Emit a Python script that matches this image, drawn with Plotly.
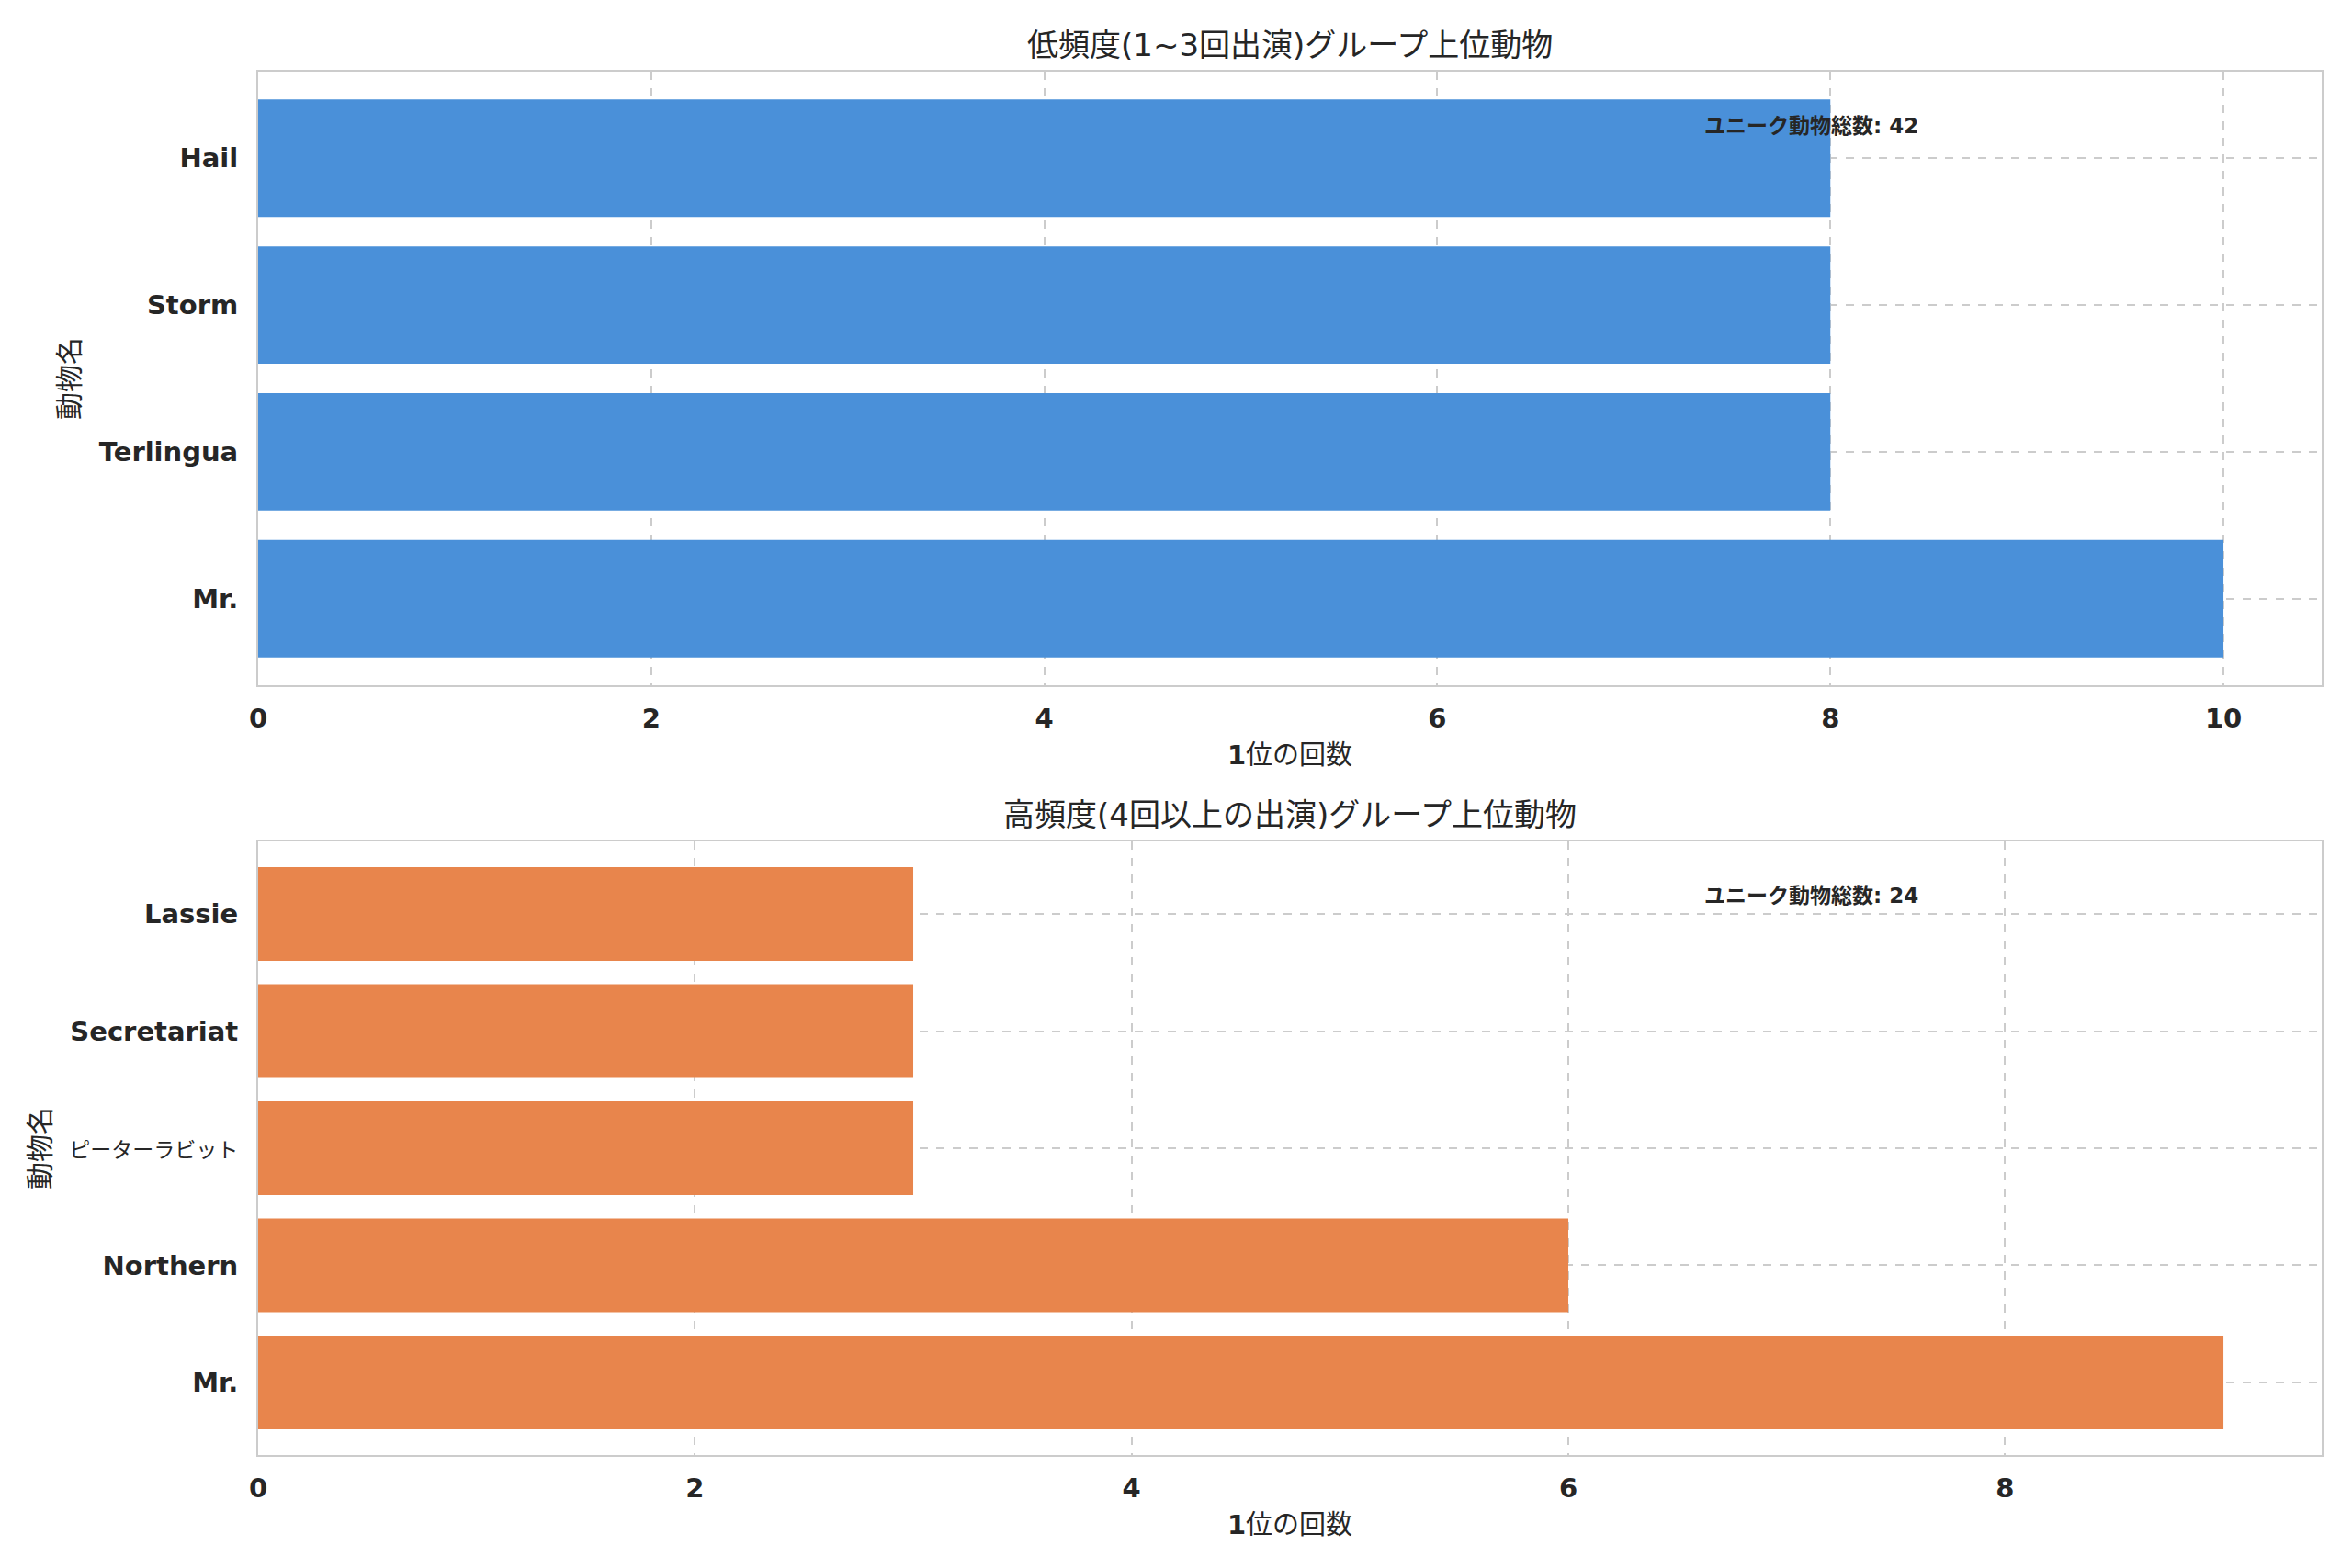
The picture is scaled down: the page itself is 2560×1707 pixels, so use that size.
import plotly.graph_objects as go
from plotly.subplots import make_subplots

# Data
top_names = ["Mr.", "Terlingua", "Storm", "Hail"]
top_values = [10, 8, 8, 8]
bottom_names = ["Mr.", "Northern", "ピーターラビット", "Secretariat", "Lassie"]
bottom_values = [9, 6, 3, 3, 3]
top_title = "低頻度(1~3回出演)グループ上位動物"
bottom_title = "高頻度(4回以上の出演)グループ上位動物"
x_label = "位の回数"
y_label = "動物名"
top_total = 42
bottom_total = 24
note_label = "ユニーク動物総数"

BLUE = "#4a90d9"
ORANGE = "#e8854c"
TXT = "#262626"
GRID = "#cccccc"
FONT = "DejaVu Sans, Noto Sans CJK JP, sans-serif"

O = 8  # default page body margin
SW, SH = 2560, 1707
W, H = SW - 2 * O, SH - 2 * O
L, R, T, B = 281 - O, 2527 - O, 78 - O, 1584 - O
top_y1 = 746 - O
bot_y0 = 916 - O
ph = B - T

fig = make_subplots(rows=2, cols=1)

fig.add_trace(go.Bar(y=top_names, x=top_values, orientation="h", width=0.8,
                     marker=dict(color=BLUE, line=dict(width=0)), showlegend=False),
              row=1, col=1)
fig.add_trace(go.Bar(y=bottom_names, x=bottom_values, orientation="h", width=0.8,
                     marker=dict(color=ORANGE, line=dict(width=0)), showlegend=False),
              row=2, col=1)

def bold_ticks(names):
    out = []
    for n in names:
        if all(ord(c) < 128 for c in n):
            out.append("<b>" + n + "</b>")
        else:
            out.append('<span style="font-size:23px">' + n + "</span>")
    return out

axis_common = dict(showline=True, mirror=True, linecolor=GRID, linewidth=2,
                   showgrid=True, gridcolor=GRID, griddash="dash", gridwidth=2,
                   zeroline=False, ticks="", automargin=False,
                   tickfont=dict(size=29, color=TXT, family=FONT))

fig.update_layout(
    width=W, height=H,
    margin=dict(l=L, r=W - R, t=T, b=H - B),
    plot_bgcolor="white", paper_bgcolor="white",
    font=dict(family=FONT, color=TXT),
    bargap=0.2,
)

# x axes
top_ticks = [0, 2, 4, 6, 8, 10]
bot_ticks = [0, 2, 4, 6, 8]
xt = "<b>1</b>" + x_label
fig.update_xaxes(**axis_common, row=1, col=1, range=[0, 10.5],
                 tickvals=top_ticks, ticktext=["<b>%d</b>" % v for v in top_ticks],
                 ticklabelstandoff=9,
                 title=dict(text=xt, font=dict(size=29, color=TXT), standoff=14))
fig.update_xaxes(**axis_common, row=2, col=1, range=[0, 9.45],
                 tickvals=bot_ticks, ticktext=["<b>%d</b>" % v for v in bot_ticks],
                 ticklabelstandoff=9,
                 title=dict(text=xt, font=dict(size=29, color=TXT), standoff=14))
# y axes
fig.update_yaxes(**axis_common, row=1, col=1, range=[-0.59, 3.59],
                 tickvals=top_names, ticktext=bold_ticks(top_names), ticklabelstandoff=14,
                 title=dict(text=y_label, font=dict(size=30, color=TXT), standoff=12))
fig.update_yaxes(**axis_common, row=2, col=1, range=[-0.62, 4.62],
                 tickvals=bottom_names, ticktext=bold_ticks(bottom_names), ticklabelstandoff=14,
                 title=dict(text=y_label, font=dict(size=30, color=TXT), standoff=12))

fig.update_layout(
    yaxis=dict(domain=[(B - top_y1) / ph, 1.0]),
    yaxis2=dict(domain=[0.0, (B - bot_y0) / ph]),
)

# titles
cx = 0.5
fig.add_annotation(text=top_title, xref="paper", yref="paper", x=cx,
                   y=(B - (49 - O)) / ph, yanchor="middle", showarrow=False,
                   font=dict(size=34, color=TXT))
fig.add_annotation(text=bottom_title, xref="paper", yref="paper", x=cx,
                   y=(B - (887 - O)) / ph, yanchor="middle", showarrow=False,
                   font=dict(size=34, color=TXT))

# notes
fig.add_annotation(text="<b>%s: %d</b>" % (note_label, top_total), xref="x domain", yref="y domain",
                   x=0.70, y=0.912, xanchor="left", yanchor="middle", showarrow=False,
                   font=dict(size=23, color=TXT))
fig.add_annotation(text="<b>%s: %d</b>" % (note_label, bottom_total), xref="x2 domain", yref="y2 domain",
                   x=0.70, y=0.912, xanchor="left", yanchor="middle", showarrow=False,
                   font=dict(size=23, color=TXT))

fig.write_html("out.html")
